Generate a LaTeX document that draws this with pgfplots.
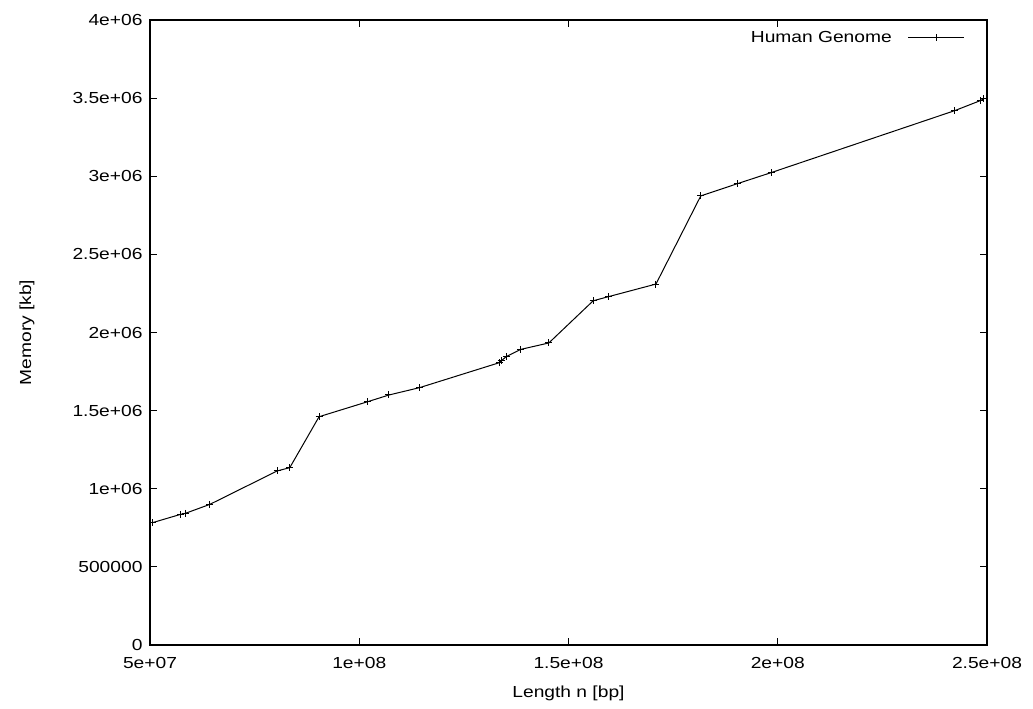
\documentclass[border=0pt]{standalone}
\usepackage{pgfplots}
\pgfplotsset{compat=1.18}
\usepackage{fontspec}
\setmainfont[FakeStretch=1.2]{Liberation Sans}
\begin{document}
\begin{tikzpicture}
\path[use as bounding box] (-150pt,-64pt) rectangle (883pt,645pt);
\begin{axis}[
  at={(0pt,0pt)}, anchor=south west,
  width=837pt, height=625pt, scale only axis,
  font=\fontsize{16}{19}\selectfont,
  xmin=50000000, xmax=250000000,
  ymin=0, ymax=4000000,
  xtick={50000000,100000000,150000000,200000000,250000000},
  xticklabels={5e+07,1e+08,1.5e+08,2e+08,2.5e+08},
  ytick={0,500000,1000000,1500000,2000000,2500000,3000000,3500000,4000000},
  yticklabels={0,500000,1e+06,1.5e+06,2e+06,2.5e+06,3e+06,3.5e+06,4e+06},
  scaled ticks=false,
  /pgf/number format/assume math mode=true,
  tick pos=both, tick align=inside,
  major tick length=7pt,
  every tick/.style={black, line width=1pt},
  axis line style={line width=1.5pt},
  xticklabel style={yshift=-9pt},
  yticklabel style={xshift=-4pt},
  xlabel={Length n [bp]}, ylabel={Memory [kb]},
  x label style={at={(axis description cs:0.5,-0.078)}, anchor=center},
  y label style={at={(axis description cs:-0.147,0.5)}, anchor=center},
  legend style={at={(axis description cs:1,1)}, anchor=north east, xshift=-19pt, yshift=-7pt,
    draw=none, fill=none, legend cell align=right, font=\fontsize{16}{19}\selectfont},
  legend plot pos=right,
  legend image code/.code={\path (0pt,0pt); \draw[#1, mark repeat=2, mark phase=2] plot coordinates {(14pt,0pt) (42pt,0pt) (70pt,0pt)};},
]
\addplot[black, line width=1pt, mark=+, mark size=3.5pt, mark options={line width=1pt}] coordinates {
(50600000,783000)
(57300000,836000)
(58500000,843000)
(64300000,900000)
(80400000,1114000)
(83400000,1135000)
(90400000,1461000)
(102000000,1557000)
(107100000,1600000)
(114400000,1647000)
(133500000,1807000)
(133900000,1818000)
(135100000,1845000)
(138600000,1892000)
(145300000,1933000)
(155900000,2203000)
(159500000,2229000)
(170900000,2310000)
(181600000,2874000)
(190300000,2952000)
(198400000,3023000)
(242300000,3420000)
(248500000,3485000)
(249200000,3495000)
};
\addlegendentry{Human Genome}
\end{axis}
\end{tikzpicture}
\end{document}
